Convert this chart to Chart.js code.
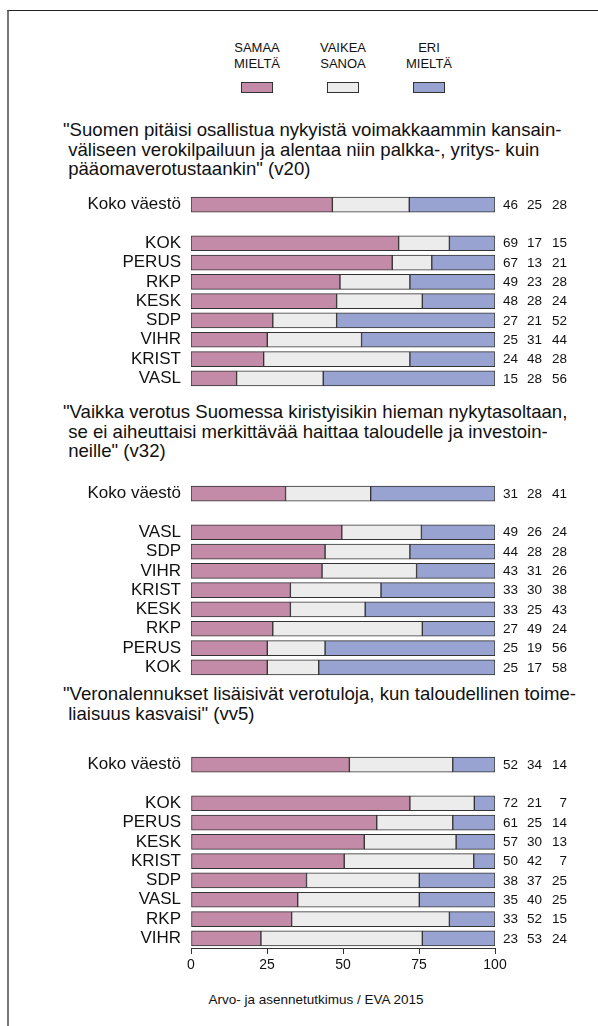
<!DOCTYPE html>
<html><head><meta charset="utf-8">
<script src="https://cdn.jsdelivr.net/npm/chart.js@4/dist/chart.umd.min.js"></script>
<style>
html,body{margin:0;padding:0;background:#fff}
body{width:598px;height:1026px;position:relative;overflow:hidden;font-family:'Liberation Sans',Arial,Helvetica,sans-serif;color:#111}
.frame{position:absolute;left:7px;top:10px;width:620px;height:1040px;border-top:1px solid #222;border-left:2px solid #777}
.legtxt{position:absolute;width:90px;text-align:center;font-size:13px;line-height:16px}
.legbox{position:absolute;width:30px;height:9px;border:1px solid #333}
.title{position:absolute;left:63px;font-size:18.6px;line-height:19.5px;white-space:pre}
.cw{position:absolute;left:0;width:598px}
.src{position:absolute;left:166px;width:300px;text-align:center;font-size:13.5px;top:992px}
</style></head>
<body>
<div class="frame"></div>
<div id="legend"></div>
<div class="title" id="t1" style="top:120px"></div>
<div class="cw" style="top:192.5px;height:197px"><canvas id="c1"></canvas></div>
<div class="title" id="t2" style="top:402px"></div>
<div class="cw" style="top:482.2px;height:197px"><canvas id="c2"></canvas></div>
<div class="title" id="t3" style="top:684px"></div>
<div class="cw" style="top:753px;height:225px"><canvas id="c3"></canvas></div>
<div class="src" id="src"></div>
<script>
// ---- data ----
const seriesNames = [['SAMAA','MIELTÄ'], ['VAIKEA','SANOA'], ['ERI','MIELTÄ']];
const seriesColors = ['#C38BA7', '#ECECEC', '#99A3D1'];

const title1 = ['"Suomen pitäisi osallistua nykyistä voimakkaammin kansain-', ' väliseen verokilpailuun ja alentaa niin palkka-, yritys- kuin', ' pääomaverotustaankin" (v20)'];
const cats1 = ['Koko väestö', '', 'KOK', 'PERUS', 'RKP', 'KESK', 'SDP', 'VIHR', 'KRIST', 'VASL'];
const samaa1 = [46.5, null, 68.3, 66.2, 49.0, 47.9, 26.9, 25.1, 23.9, 15.0];
const vaikea1 = [25.3, null, 16.7, 13.0, 23.0, 28.2, 21.0, 31.0, 48.1, 28.5];
const eri1 = [28.2, null, 15.0, 20.8, 28.0, 23.9, 52.1, 43.9, 28.0, 56.5];
const shownSamaa1 = [46, null, 69, 67, 49, 48, 27, 25, 24, 15];
const shownVaikea1 = [25, null, 17, 13, 23, 28, 21, 31, 48, 28];
const shownEri1 = [28, null, 15, 21, 28, 24, 52, 44, 28, 56];

const title2 = ['"Vaikka verotus Suomessa kiristyisikin hieman nykytasoltaan,', ' se ei aiheuttaisi merkittävää haittaa taloudelle ja investoin-', ' neille" (v32)'];
const cats2 = ['Koko väestö', '', 'VASL', 'SDP', 'VIHR', 'KRIST', 'KESK', 'RKP', 'PERUS', 'KOK'];
const samaa2 = [31.1, null, 49.6, 44.1, 43.1, 32.7, 32.7, 26.9, 25.1, 25.1];
const vaikea2 = [28.0, null, 26.2, 27.9, 31.1, 29.8, 24.6, 49.2, 19.0, 16.9];
const eri2 = [40.9, null, 24.2, 28.0, 25.8, 37.5, 42.7, 23.9, 55.9, 58.0];
const shownSamaa2 = [31, null, 49, 44, 43, 33, 33, 27, 25, 25];
const shownVaikea2 = [28, null, 26, 28, 31, 30, 25, 49, 19, 17];
const shownEri2 = [41, null, 24, 28, 26, 38, 43, 24, 56, 58];

const title3 = ['"Veronalennukset lisäisivät verotuloja, kun taloudellinen toime-', ' liaisuus kasvaisi" (vv5)'];
const cats3 = ['Koko väestö', '', 'KOK', 'PERUS', 'KESK', 'KRIST', 'SDP', 'VASL', 'RKP', 'VIHR'];
const samaa3 = [52.1, null, 72.0, 61.1, 57.0, 50.4, 38.0, 35.1, 33.1, 23.0];
const vaikea3 = [34.0, null, 21.2, 25.0, 30.2, 42.6, 37.1, 40.0, 51.9, 53.1];
const eri3 = [13.9, null, 6.8, 13.9, 12.8, 7.0, 24.9, 24.9, 15.0, 23.9];
const shownSamaa3 = [52, null, 72, 61, 57, 50, 38, 35, 33, 23];
const shownVaikea3 = [34, null, 21, 25, 30, 42, 37, 40, 52, 53];
const shownEri3 = [14, null, 7, 14, 13, 7, 25, 25, 15, 24];

const xTickValues = [0, 25, 50, 75, 100];
const sourceText = 'Arvo- ja asennetutkimus / EVA 2015';

// ---- static text ----
const FONT = "'Liberation Sans', Arial, Helvetica, sans-serif";
document.getElementById('t1').textContent = title1.join('\n');
document.getElementById('t2').textContent = title2.join('\n');
document.getElementById('t3').textContent = title3.join('\n');
document.getElementById('src').textContent = sourceText;
const legCenters = [257, 343, 429];
const leg = document.getElementById('legend');
seriesNames.forEach((n, i) => {
  const t = document.createElement('div');
  t.className = 'legtxt';
  t.style.left = (legCenters[i] - 45) + 'px';
  t.style.top = '40px';
  t.innerHTML = n[0] + '<br>' + n[1];
  leg.appendChild(t);
  const b = document.createElement('div');
  b.className = 'legbox';
  b.style.left = (legCenters[i] - 16) + 'px';
  b.style.top = '82px';
  b.style.background = seriesColors[i];
  leg.appendChild(b);
});

// ---- charts ----
const numbersPlugin = {
  id: 'numbers',
  afterDraw(chart) {
    const shown = chart.options.plugins.numbers.shown;
    const ctx = chart.ctx, ca = chart.chartArea, ys = chart.scales.y;
    ctx.save();
    ctx.font = '13.5px ' + FONT;
    ctx.fillStyle = '#111';
    ctx.textAlign = 'right';
    ctx.textBaseline = 'middle';
    const offs = [23, 47, 72];
    shown[0].forEach((v, i) => {
      if (v === null) return;
      const y = ys.getPixelForValue(i);
      shown.forEach((arr, k) => ctx.fillText(String(arr[i]), ca.right + offs[k], y + 0.5));
    });
    ctx.restore();
  }
};

function makeChart(id, cats, s, v, e, shown, showAxis) {
  const mk = (label, data, i) => ({
    label, data, backgroundColor: seriesColors[i], borderColor: '#333',
    borderWidth: 1, borderSkipped: false, barThickness: 15
  });
  return new Chart(document.getElementById(id), {
    type: 'bar',
    data: {
      labels: cats,
      datasets: [mk(seriesNames[0].join(' '), s, 0), mk(seriesNames[1].join(' '), v, 1), mk(seriesNames[2].join(' '), e, 2)]
    },
    plugins: [numbersPlugin],
    options: {
      indexAxis: 'y',
      responsive: true,
      maintainAspectRatio: false,
      animation: false,
      devicePixelRatio: 1,
      layout: { padding: { left: 0, right: 103, top: 2, bottom: showAxis ? 0 : 2 } },
      plugins: { legend: { display: false }, tooltip: { enabled: false }, numbers: { shown } },
      scales: {
        y: {
          stacked: true,
          grid: { display: false, drawTicks: false },
          border: { display: false },
          ticks: { font: { size: 17, family: FONT }, color: '#111', padding: 10, autoSkip: false },
          afterFit(scale) { scale.width = 191; scale.paddingTop = 0; scale.paddingBottom = 0; }
        },
        x: {
          stacked: true,
          display: showAxis,
          min: 0, max: 100,
          afterBuildTicks(scale) { scale.ticks = xTickValues.map(v => ({ value: v })); },
          grid: { display: true, drawOnChartArea: false, drawTicks: true, tickLength: 6, color: '#333', lineWidth: 1 },
          border: { display: true, color: '#333', width: 1 },
          ticks: { font: { size: 14, family: FONT }, color: '#111', padding: 3, maxRotation: 0 },
          afterFit(scale) { scale.height = showAxis ? 30 : 0; }
        }
      }
    }
  });
}

makeChart('c1', cats1, samaa1, vaikea1, eri1, [shownSamaa1, shownVaikea1, shownEri1], false);
makeChart('c2', cats2, samaa2, vaikea2, eri2, [shownSamaa2, shownVaikea2, shownEri2], false);
makeChart('c3', cats3, samaa3, vaikea3, eri3, [shownSamaa3, shownVaikea3, shownEri3], true);
</script>
</body></html>
